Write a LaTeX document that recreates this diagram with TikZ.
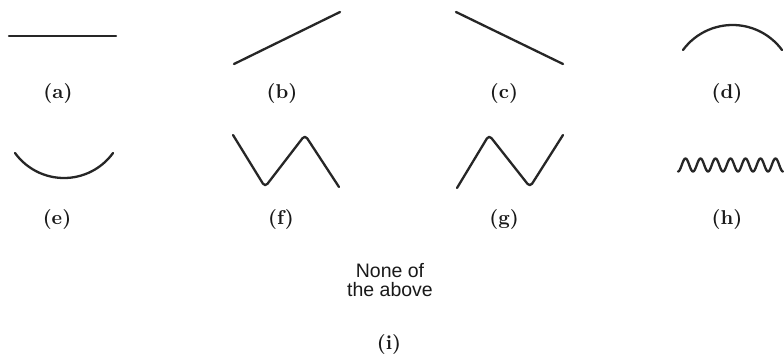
\documentclass[tikz,border=0pt]{standalone}
\usepackage{fontspec}
\newfontfamily\arialfont{Liberation Sans}
\newfontfamily\labfont{lmroman10-bold}[Extension=.otf]
\begin{document}
\begin{tikzpicture}[x=1pt,y=1pt,
  curve/.style={line width=2.3pt, draw=black!85, line cap=round, line join=round},
  lab/.style={font=\labfont\fontsize{20}{22}\selectfont, text=black!90, inner sep=0pt},
  note/.style={font=\arialfont\fontsize{19.5}{19}\selectfont, text=black!90, align=center, inner sep=0pt}]
\useasboundingbox (0,0) rectangle (784,356);
\fill[white] (0,0) rectangle (784,356);
% (a)
\draw[curve] (9,320) -- (116,320);
\node[lab] (la) at (58,263) {(a)};
% (b)
\draw[curve] (234,292) -- (340,344);
\node[lab] (lb) at (282,263) {(b)};
% (c)
\draw[curve] (456,344) -- (563,292);
\node[lab] (lc) at (504,263) {(c)};
% (d)
\draw[curve] (683,306) arc[start angle=143.6, end angle=36.4, radius=61.5pt];
\node[lab] (ld) at (727,263) {(d)};
% (e)
\draw[curve] (15,203) arc[start angle=215.9, end angle=324.1, radius=60.5pt];
\node[lab] (le) at (57,137) {(e)};
% (f)
\draw[curve, rounded corners=4pt] (233,221) -- (265,169) -- (305,221) -- (339,169);
\node[lab] (lf) at (281,137) {(f)};
% (g)
\draw[curve, rounded corners=4pt] (457,168) -- (489,221) -- (530,169) -- (563,221);
\node[lab] (lg) at (504,137) {(g)};
% (h)
\draw[curve] plot[domain=678:783, samples=200, smooth] (\x, {191-6.5*cos(24*(\x-678))});
\node[lab] (lh) at (727,137) {(h)};
% (i)
\node[note] (ni) at (390,76) {None of\\the above};
\node[lab] (li) at (389,12) {(i)};
\end{tikzpicture}
\end{document}
